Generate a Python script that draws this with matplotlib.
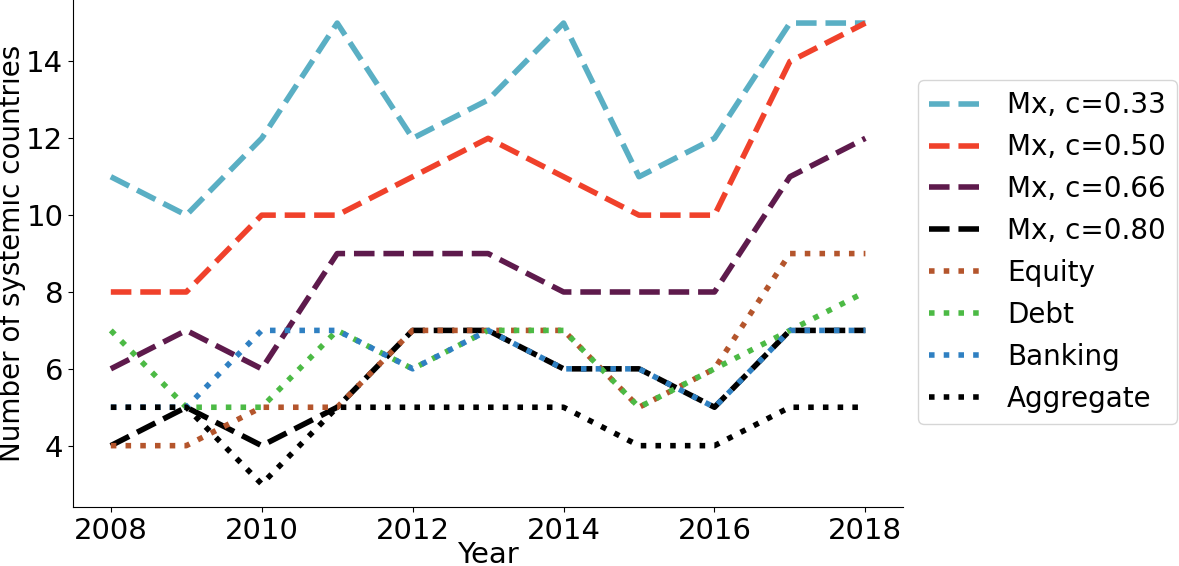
import matplotlib
matplotlib.use("Agg")
import matplotlib.pyplot as plt

years = list(range(2008, 2019))

mx033 = [11, 10, 12, 15, 12, 13, 15, 11, 12, 15, 15]
mx050 = [8, 8, 10, 10, 11, 12, 11, 10, 10, 14, 15]
mx066 = [6, 7, 6, 9, 9, 9, 8, 8, 8, 11, 12]
mx080 = [4, 5, 4, 5, 7, 7, 6, 6, 5, 7, 7]
equity = [4, 4, 5, 5, 7, 7, 7, 5, 6, 9, 9]
debt = [7, 5, 5, 7, 6, 7, 7, 5, 6, 7, 8]
banking = [5, 5, 7, 7, 6, 7, 6, 6, 5, 7, 7]
aggregate = [5, 5, 3, 5, 5, 5, 5, 4, 4, 5, 5]

plt.rcParams["font.size"] = 21

fig = plt.figure(figsize=(11.79, 5.66), dpi=100)
ax = fig.add_axes([0.062, 0.104, 0.704, 0.896])

lw = 4
ax.plot(years, mx033, "--", color="#5aafc4", lw=lw, label="Mx, c=0.33")
ax.plot(years, mx050, "--", color="#f0412b", lw=lw, label="Mx, c=0.50")
ax.plot(years, mx066, "--", color="#5e1a4c", lw=lw, label="Mx, c=0.66")
ax.plot(years, mx080, "--", color="black", lw=lw, label="Mx, c=0.80")
ax.plot(years, equity, ":", color="#b4552c", lw=lw, label="Equity")
ax.plot(years, debt, ":", color="#4cba45", lw=lw, label="Debt")
ax.plot(years, banking, ":", color="#2f80c2", lw=lw, label="Banking")
ax.plot(years, aggregate, ":", color="black", lw=lw, label="Aggregate")

ax.set_xticks([2008, 2010, 2012, 2014, 2016, 2018])
ax.set_yticks([4, 6, 8, 10, 12, 14])
ax.set_xlabel("Year", labelpad=-3)
ax.set_ylabel("Number of systemic countries", fontsize=20, labelpad=0.5)
ax.spines["top"].set_visible(False)
ax.spines["right"].set_visible(False)

ax.legend(loc="center left", bbox_to_anchor=(1.018, 0.503), fontsize=20,
          borderaxespad=0)

fig.savefig("out.png", dpi=100)
